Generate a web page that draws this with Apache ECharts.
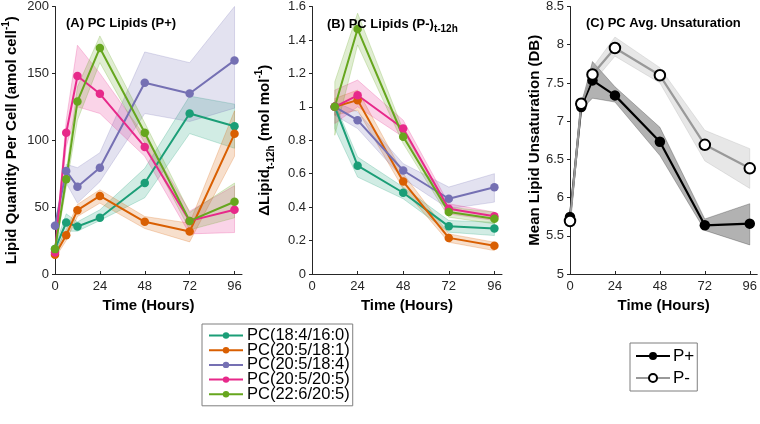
<!DOCTYPE html>
<html><head><meta charset="utf-8">
<script src="https://cdn.jsdelivr.net/npm/echarts@6/dist/echarts.min.js"></script>
<style>html,body{margin:0;padding:0;background:#fff}#c{width:760px;height:424px}</style>
</head><body><div id="c"></div>
<script>
// ---------- data ----------
const timesA = [0, 6, 12, 24, 48, 72, 96];
const timesB = [12, 24, 48, 72, 96];
const timesC = [0, 6, 12, 24, 48, 72, 96];
const xTicks = [0, 24, 48, 72, 96];
const lipidNames = ['PC(18:4/16:0)', 'PC(20:5/18:1)', 'PC(20:5/18:4)', 'PC(20:5/20:5)', 'PC(22:6/20:5)'];

// Panel A: amol per cell (mean, lower, upper)
const a_18_4_16_0 = [18.6, 38.5, 35.5, 42, 68, 120, 110.5];
const a_18_4_16_0_lo = [16, 32, 32, 40, 57, 105, 94];
const a_18_4_16_0_hi = [21, 45, 39, 48, 79, 133, 127];
const a_20_5_18_1 = [14.4, 29, 47.7, 58.4, 39, 31.8, 104.8];
const a_20_5_18_1_lo = [12, 25, 43, 53, 34, 24, 88];
const a_20_5_18_1_hi = [17, 33, 52, 63, 43, 38, 122];
const a_20_5_18_4 = [36, 77, 65.3, 79.5, 143, 135, 159.7];
const a_20_5_18_4_lo = [33, 68, 53, 69, 120, 114, 124];
const a_20_5_18_4_hi = [39, 82, 79.5, 90.7, 166, 158, 200];
const a_20_5_20_5 = [16, 105.6, 148, 134.7, 95, 39.7, 48];
const a_20_5_20_5_lo = [14, 95, 125, 120, 88, 30, 31];
const a_20_5_20_5_hi = [18, 115, 171, 150, 103, 47, 66];
const a_22_6_20_5 = [18.6, 70.8, 129, 169, 105.6, 39.7, 54];
const a_22_6_20_5_lo = [16, 65, 115, 158, 98, 33, 42];
const a_22_6_20_5_hi = [21, 76, 140, 178, 113, 46, 68];

// Panel B: relative change over 12 h
const b_18_4_16_0 = [1.0, 0.648, 0.486, 0.285, 0.272];
const b_18_4_16_0_lo = [0.87, 0.58, 0.45, 0.25, 0.23];
const b_18_4_16_0_hi = [1.02, 0.70, 0.52, 0.32, 0.31];
const b_20_5_18_1 = [1.0, 1.04, 0.553, 0.216, 0.169];
const b_20_5_18_1_lo = [0.95, 0.98, 0.51, 0.19, 0.14];
const b_20_5_18_1_hi = [1.05, 1.10, 0.60, 0.24, 0.19];
const b_20_5_18_4 = [1.0, 0.92, 0.619, 0.45, 0.519];
const b_20_5_18_4_lo = [0.95, 0.87, 0.57, 0.39, 0.43];
const b_20_5_18_4_hi = [1.03, 0.97, 0.66, 0.52, 0.60];
const b_20_5_20_5 = [1.0, 1.069, 0.87, 0.39, 0.345];
const b_20_5_20_5_lo = [0.90, 1.0, 0.82, 0.36, 0.32];
const b_20_5_20_5_hi = [1.10, 1.16, 0.92, 0.42, 0.37];
const b_22_6_20_5 = [1.0, 1.465, 0.821, 0.371, 0.331];
const b_22_6_20_5_lo = [0.83, 1.37, 0.78, 0.34, 0.30];
const b_22_6_20_5_hi = [1.15, 1.56, 0.86, 0.40, 0.37];

// Panel C: mean unsaturation
const c_plus = [5.746, 7.186, 7.533, 7.337, 6.73, 5.637, 5.659];
const c_plus_lo = [5.70, 7.15, 7.30, 7.25, 6.55, 5.57, 5.38];
const c_plus_hi = [5.80, 7.22, 7.78, 7.45, 6.92, 5.72, 5.92];
const c_minus = [5.694, 7.229, 7.61, 7.957, 7.60, 6.69, 6.383];
const c_minus_lo = [5.67, 7.20, 7.50, 7.85, 7.50, 6.48, 6.12];
const c_minus_hi = [5.72, 7.25, 7.70, 8.10, 7.70, 6.88, 6.64];

// ---------- styles ----------
const lipidColors = ['#1b9e77', '#d95f02', '#7570b3', '#e7298a', '#66a61e'];
const FONT = 'Liberation Sans, Arial, Helvetica, sans-serif';
const AX = '#262626';

const A = [[a_18_4_16_0, a_18_4_16_0_lo, a_18_4_16_0_hi], [a_20_5_18_1, a_20_5_18_1_lo, a_20_5_18_1_hi],
  [a_20_5_18_4, a_20_5_18_4_lo, a_20_5_18_4_hi], [a_20_5_20_5, a_20_5_20_5_lo, a_20_5_20_5_hi],
  [a_22_6_20_5, a_22_6_20_5_lo, a_22_6_20_5_hi]];
const B = [[b_18_4_16_0, b_18_4_16_0_lo, b_18_4_16_0_hi], [b_20_5_18_1, b_20_5_18_1_lo, b_20_5_18_1_hi],
  [b_20_5_18_4, b_20_5_18_4_lo, b_20_5_18_4_hi], [b_20_5_20_5, b_20_5_20_5_lo, b_20_5_20_5_hi],
  [b_22_6_20_5, b_22_6_20_5_lo, b_22_6_20_5_hi]];

function hexA(h, a) {
  const r = parseInt(h.slice(1, 3), 16), g = parseInt(h.slice(3, 5), 16), b = parseInt(h.slice(5, 7), 16);
  return `rgba(${r},${g},${b},${a})`;
}
// shaded band drawn as one polygon through the axis scales (api.coord)
function band(idx, xs, lo, hi, color, fillA, edgeA) {
  const data = xs.map((x, i) => [x, lo[i], hi[i]]);
  return {
    type: 'custom', xAxisIndex: idx, yAxisIndex: idx, silent: true, z: 1,
    data: data, encode: { x: 0, y: [1, 2] },
    renderItem: function (params, api) {
      if (params.dataIndex !== 0) return null;
      const top = data.map(d => api.coord([d[0], d[2]]));
      const bot = data.map(d => api.coord([d[0], d[1]])).reverse();
      return { type: 'polygon', shape: { points: top.concat(bot) },
        style: { fill: hexA(color, fillA), stroke: hexA(color, edgeA), lineWidth: 0.8 } };
    }
  };
}
function mainLine(idx, xs, ys, name, color, opts) {
  opts = opts || {};
  return { type: 'line', name: name, xAxisIndex: idx, yAxisIndex: idx, clip: false,
    data: xs.map((x, i) => [x, ys[i]]), symbol: 'circle', symbolSize: opts.size || 8.5,
    lineStyle: { width: opts.lw || 2, color: opts.lineColor || color },
    itemStyle: { color: opts.fill || color, borderColor: opts.border || color, borderWidth: opts.bw || 0 },
    z: 3 };
}

const series = [];
A.forEach((s, k) => series.push(band(0, timesA, s[1], s[2], lipidColors[k], 0.2, 0.3)));
B.forEach((s, k) => series.push(band(1, timesB, s[1], s[2], lipidColors[k], 0.2, 0.3)));
series.push(band(2, timesC, c_plus_lo, c_plus_hi, '#000000', 0.3, 0.3));
series.push(band(2, timesC, c_minus_lo, c_minus_hi, '#a0a0a0', 0.25, 0.3));
A.forEach((s, k) => series.push(mainLine(0, timesA, s[0], lipidNames[k], lipidColors[k])));
B.forEach((s, k) => series.push(mainLine(1, timesB, s[0], lipidNames[k] + ' ', lipidColors[k])));
series.push(mainLine(2, timesC, c_plus, 'P+', '#000000', { size: 10.5, lw: 2.2 }));
series.push(mainLine(2, timesC, c_minus, 'P-', '#000000', { size: 10.5, lw: 2.2, lineColor: '#999999', fill: '#ffffff', border: '#000000', bw: 2 }));

function xAx(idx) {
  return { type: 'value', gridIndex: idx, min: 0, max: 100, interval: 24,
    name: 'Time (Hours)', nameLocation: 'middle', nameGap: 22,
    nameTextStyle: { fontFamily: FONT, fontSize: 15, fontWeight: 'bold', color: '#000' },
    axisLine: { lineStyle: { color: AX, width: 1 } },
    axisTick: { inside: true, length: 3, lineStyle: { color: AX }, customValues: xTicks },
    axisLabel: { fontFamily: FONT, fontSize: 13, color: AX, margin: 6, customValues: xTicks },
    splitLine: { show: false } };
}
function yAx(idx, min, max, interval, name, gap, rich) {
  return { type: 'value', gridIndex: idx, min: min, max: max, interval: interval,
    name: name, nameLocation: 'middle', nameGap: gap, nameRotate: 90,
    nameTextStyle: { fontFamily: FONT, fontSize: 15, fontWeight: 'bold', color: '#000', rich: rich },
    axisLine: { show: true, lineStyle: { color: AX, width: 1 } },
    axisTick: { show: true, length: 3, lineStyle: { color: AX } },
    axisLabel: { fontFamily: FONT, fontSize: 13, color: AX, margin: 6 },
    splitLine: { show: false } };
}
const richName = {
  sub: { fontFamily: FONT, fontSize: 10, fontWeight: 'bold', color: '#000', verticalAlign: 'bottom', lineHeight: 22 },
  sup: { fontFamily: FONT, fontSize: 10, fontWeight: 'bold', color: '#000', verticalAlign: 'top', lineHeight: 22 }
};
const titleRich = {
  sub: { fontFamily: FONT, fontSize: 10, fontWeight: 'bold', color: '#000', verticalAlign: 'bottom', lineHeight: 20 }
};

const option = {
  animation: false,
  backgroundColor: '#ffffff',
  title: [
    { text: '(A) PC Lipids (P+)', left: 66, top: 17, padding: 0,
      textStyle: { fontFamily: FONT, fontSize: 13, fontWeight: 'bold', color: '#000' } },
    { text: '(B) PC Lipids (P-){sub|t-12h}', left: 327, top: 14, padding: 0,
      textStyle: { fontFamily: FONT, fontSize: 13, fontWeight: 'bold', color: '#000', lineHeight: 20, rich: titleRich } },
    { text: '(C) PC Avg. Unsaturation', left: 586, top: 17, padding: 0,
      textStyle: { fontFamily: FONT, fontSize: 13, fontWeight: 'bold', color: '#000' } }
  ],
  grid: [
    { left: 52, top: 5, width: 190, height: 269 },
    { left: 312, top: 5, width: 190, height: 269 },
    { left: 570, top: 5, width: 191, height: 269 }
  ],
  xAxis: [xAx(0), xAx(1), xAx(2)],
  yAxis: [
    yAx(0, 0, 200, 50, 'Lipid Quantity Per Cell (amol cell{sup|-1})', 32, richName),
    yAx(1, 0, 1.6, 0.2, '\u0394Lipid{sub|t-12h} (mol mol{sup|-1})', 36, richName),
    yAx(2, 5, 8.5, 0.5, 'Mean Lipid Unsaturation (DB)', 28, richName)
  ],
  legend: [
    { data: lipidNames, orient: 'vertical', left: 202, top: 324, itemWidth: 34, itemHeight: 8, itemGap: -2.3,
      padding: [3, 3, 3, 6], borderColor: '#7f7f7f', borderWidth: 1, selectedMode: false,
      textStyle: { fontFamily: FONT, fontSize: 16.5, color: '#000', padding: [0, 0, 0, -1] } },
    { data: ['P+', 'P-'], orient: 'vertical', left: 630, top: 343, itemWidth: 34, itemHeight: 10, itemGap: 4,
      padding: [4, 3, 4, 5], borderColor: '#7f7f7f', borderWidth: 1, selectedMode: false,
      textStyle: { fontFamily: FONT, fontSize: 17, lineHeight: 18, color: '#000', padding: [0, 0, 0, -2] } }
  ],
  series: series
};
const chart = echarts.init(document.getElementById('c'), null, { renderer: 'canvas' });
chart.setOption(option);
</script></body></html>
